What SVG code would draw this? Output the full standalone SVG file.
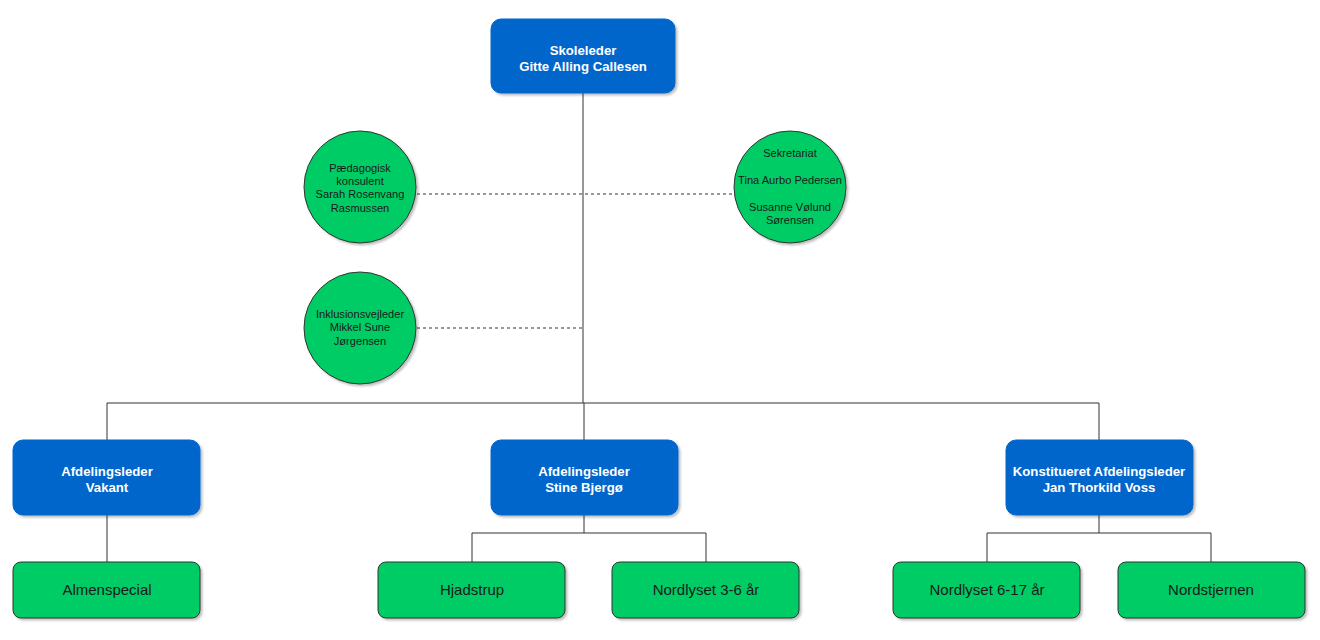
<svg xmlns="http://www.w3.org/2000/svg" width="1320" height="640" viewBox="0 0 1320 640">
<defs>
<filter id="sh" x="-10%" y="-10%" width="130%" height="130%">
<feDropShadow dx="2" dy="2" stdDeviation="1.2" flood-color="#000" flood-opacity="0.25"/>
</filter>
</defs>
<style>
.blue{fill:#0066CC;stroke:#0066CC;stroke-width:1;filter:url(#sh)}
.green{fill:#00CC66;stroke:#333333;stroke-width:1;filter:url(#sh)}
.bt{font-family:"Liberation Sans",Arial,sans-serif;font-size:13.2px;font-weight:bold;fill:#ffffff;text-anchor:middle}
.gt{font-family:"Liberation Sans",Arial,sans-serif;font-size:15px;fill:#1a1a1a;text-anchor:middle}
.ct{font-family:"Liberation Sans",Arial,sans-serif;font-size:11.1px;fill:#1a1a1a;text-anchor:middle}
.ln{fill:none;stroke:#333333;stroke-width:1}
.dl{fill:none;stroke:#333333;stroke-width:1;stroke-dasharray:3 3}
</style>
<rect width="1320" height="640" fill="#ffffff"/>
<g id="connectors">
<path class="ln" d="M583 93 V403"/>
<path class="ln" d="M107 440 V403 H1099 V440"/>
<path class="ln" d="M584 403 V440"/>
<path class="dl" d="M417 194 H735"/>
<path class="dl" d="M417 328 H583"/>
<path class="ln" d="M107 515 V562"/>
<path class="ln" d="M584 515 V533 M472 562 V533 H706 V562"/>
<path class="ln" d="M1099 515 V533 M987 562 V533 H1211 V562"/>
</g>
<g id="skoleleder">
<rect class="blue" x="491" y="19" width="184" height="74" rx="10"/>
<text class="bt" x="583" y="54.5">Skoleleder</text>
<text class="bt" x="583" y="70.5">Gitte Alling Callesen</text>
</g>
<g id="paedagogisk">
<circle class="green" cx="360" cy="187" r="56"/>
<text class="ct" x="360" y="172">Pædagogisk</text>
<text class="ct" x="360" y="185">konsulent</text>
<text class="ct" x="360" y="198">Sarah Rosenvang</text>
<text class="ct" x="360" y="212">Rasmussen</text>
</g>
<g id="sekretariat">
<circle class="green" cx="790" cy="187" r="56"/>
<text class="ct" x="790" y="157">Sekretariat</text>
<text class="ct" x="790" y="184">Tina Aurbo Pedersen</text>
<text class="ct" x="790" y="211">Susanne Vølund</text>
<text class="ct" x="790" y="224">Sørensen</text>
</g>
<g id="inklusion">
<circle class="green" cx="360" cy="328" r="56"/>
<text class="ct" x="360" y="318">Inklusionsvejleder</text>
<text class="ct" x="360" y="331">Mikkel Sune</text>
<text class="ct" x="360" y="345">Jørgensen</text>
</g>
<g id="afd-vakant">
<rect class="blue" x="13" y="440" width="187" height="75" rx="10"/>
<text class="bt" x="107" y="475.5">Afdelingsleder</text>
<text class="bt" x="107" y="491.5">Vakant</text>
</g>
<g id="afd-stine">
<rect class="blue" x="491" y="440" width="187" height="75" rx="10"/>
<text class="bt" x="584" y="475.5">Afdelingsleder</text>
<text class="bt" x="584" y="491.5">Stine Bjergø</text>
</g>
<g id="afd-jan">
<rect class="blue" x="1006" y="440" width="187" height="75" rx="10"/>
<text class="bt" x="1099" y="475.5">Konstitueret Afdelingsleder</text>
<text class="bt" x="1099" y="491.5">Jan Thorkild Voss</text>
</g>
<g id="almenspecial">
<rect class="green" x="13" y="562" width="187" height="56" rx="8"/>
<text class="gt" x="107" y="595">Almenspecial</text>
</g>
<g id="hjadstrup">
<rect class="green" x="378" y="562" width="187" height="56" rx="8"/>
<text class="gt" x="472" y="595">Hjadstrup</text>
</g>
<g id="nordlyset36">
<rect class="green" x="612" y="562" width="187" height="56" rx="8"/>
<text class="gt" x="706" y="595">Nordlyset 3-6 år</text>
</g>
<g id="nordlyset617">
<rect class="green" x="893" y="562" width="187" height="56" rx="8"/>
<text class="gt" x="987" y="595">Nordlyset 6-17 år</text>
</g>
<g id="nordstjernen">
<rect class="green" x="1118" y="562" width="187" height="56" rx="8"/>
<text class="gt" x="1211" y="595">Nordstjernen</text>
</g>
</svg>
